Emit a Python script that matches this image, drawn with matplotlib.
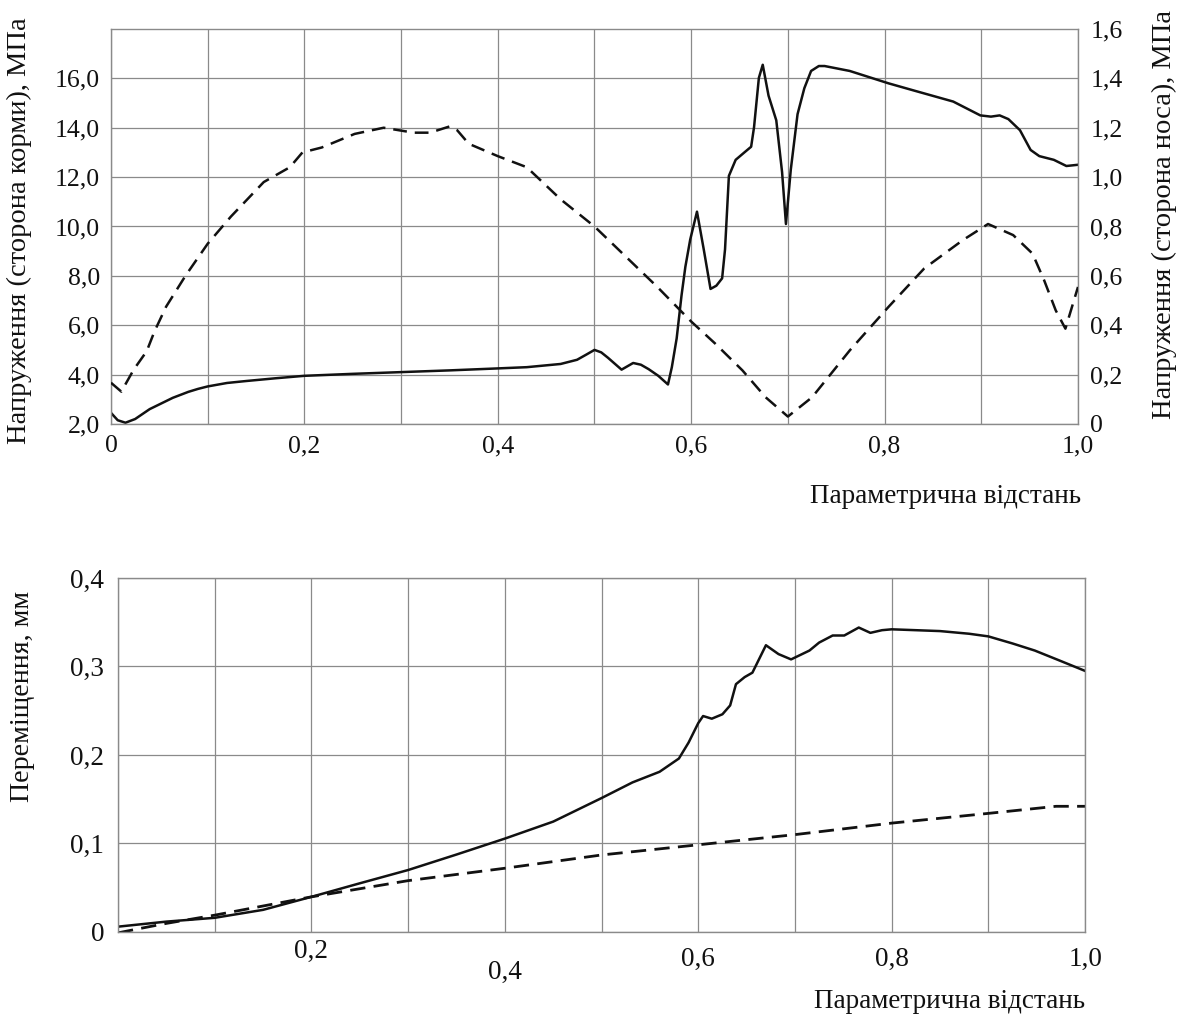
import numpy as np
import matplotlib.pyplot as plt
from matplotlib.ticker import FixedLocator, FixedFormatter

plt.rcParams['font.family'] = ['Liberation Serif', 'DejaVu Serif']

# stresses along the parametric distance (stern side, MPa)
stern_x = [0, 0.007, 0.015, 0.025, 0.04, 0.064, 0.08, 0.09, 0.1, 0.12, 0.14, 0.17, 0.2, 0.25,
           0.3, 0.35, 0.4, 0.43, 0.465, 0.482, 0.492, 0.5, 0.507, 0.514, 0.528, 0.54, 0.548,
           0.556, 0.566, 0.576, 0.58, 0.585, 0.59, 0.594, 0.599, 0.606, 0.613, 0.62, 0.626,
           0.632, 0.635, 0.639, 0.646, 0.655, 0.662, 0.665, 0.67, 0.674, 0.68, 0.688,
           0.694, 0.698, 0.703, 0.71, 0.717, 0.724, 0.732, 0.738, 0.764, 0.804, 0.831,
           0.871, 0.899, 0.91, 0.919, 0.928, 0.94, 0.951, 0.96, 0.975, 0.988, 1.0]
stern_y = [2.45, 2.15, 2.05, 2.2, 2.6, 3.06, 3.3, 3.42, 3.52, 3.66, 3.74, 3.85, 3.95, 4.03,
           4.1, 4.17, 4.25, 4.3, 4.43, 4.6, 4.82, 5.0, 4.9, 4.68, 4.2, 4.47, 4.4,
           4.22, 3.95, 3.6, 4.3, 5.47, 7.2, 8.37, 9.47, 10.6, 9.07, 7.47, 7.6,
           7.9, 9.07, 12.05, 12.7, 13.0, 13.23, 14.02, 16.02, 16.55, 15.3, 14.3,
           12.2, 10.1, 12.3, 14.55, 15.6, 16.3, 16.5, 16.5, 16.3, 15.8, 15.5,
           15.06, 14.5, 14.45, 14.5, 14.35, 13.9, 13.1, 12.85, 12.7, 12.45, 12.5]

# stresses, nose side (MPa)
nose_x = [0, 0.0107, 0.0235, 0.037, 0.045, 0.057, 0.077, 0.1, 0.124, 0.158, 0.185, 0.198,
          0.218, 0.252, 0.282, 0.313, 0.33, 0.35, 0.358, 0.37, 0.4, 0.43, 0.465, 0.5,
          0.565, 0.6, 0.625, 0.653, 0.677, 0.7, 0.725, 0.764, 0.804, 0.841, 0.881, 0.907,
          0.933, 0.953, 0.965, 0.977, 0.987, 1.0]
nose_y = [0.167, 0.131, 0.22, 0.295, 0.375, 0.475, 0.6, 0.73, 0.84, 0.98, 1.04, 1.1,
          1.12, 1.175, 1.2, 1.18, 1.18, 1.205, 1.19, 1.135, 1.085, 1.04, 0.91, 0.80,
          0.555, 0.415, 0.325, 0.217, 0.108, 0.03, 0.108, 0.298, 0.474, 0.63, 0.745, 0.81,
          0.765, 0.69, 0.582, 0.46, 0.386, 0.555]

# displacements (mm)
disp1_x = [0, 0.05, 0.1, 0.15, 0.2, 0.25, 0.3, 0.35, 0.4, 0.45, 0.5, 0.532, 0.56, 0.58,
           0.59, 0.6, 0.605, 0.614, 0.625, 0.633, 0.639, 0.648, 0.656, 0.67,
           0.683, 0.696, 0.715, 0.725, 0.739, 0.751, 0.766, 0.778, 0.79, 0.8, 0.85, 0.88,
           0.9, 0.925, 0.948, 0.973, 1.0]
disp1_y = [0.006, 0.0117, 0.016, 0.025, 0.0397, 0.055, 0.07, 0.0875, 0.1055, 0.1247, 0.1513,
           0.169, 0.181, 0.196, 0.214, 0.236, 0.244, 0.241, 0.246, 0.256, 0.28,
           0.288, 0.293, 0.324, 0.314, 0.308, 0.318, 0.327, 0.335, 0.335, 0.344, 0.338,
           0.341, 0.342, 0.34, 0.337, 0.334, 0.326, 0.318, 0.307, 0.295]
disp2_x = [0, 0.023, 0.05, 0.1, 0.2, 0.3, 0.4, 0.5, 0.6, 0.7, 0.8, 0.9, 0.97, 1.0]
disp2_y = [-0.001, 0.004, 0.0097, 0.019, 0.0397, 0.058, 0.072, 0.087, 0.0985, 0.11,
           0.123, 0.134, 0.142, 0.142]

x_grid = np.round(np.arange(0, 1.01, 0.1), 1)
top_xlabels = ['0', '', '0,2', '', '0,4', '', '0,6', '', '0,8', '', '1,0']
bot_xlabels = ['', '', '0,2', '', '0,4', '', '0,6', '', '0,8', '', '1,0']
stern_ticks = [2, 4, 6, 8, 10, 12, 14, 16]
stern_labels = ['2,0', '4,0', '6,0', '8,0', '10,0', '12,0', '14,0', '16,0']
nose_ticks = [0, 0.2, 0.4, 0.6, 0.8, 1.0, 1.2, 1.4, 1.6]
nose_labels = ['0', '0,2', '0,4', '0,6', '0,8', '1,0', '1,2', '1,4', '1,6']
disp_ticks = [0, 0.1, 0.2, 0.3, 0.4]
disp_labels = ['0', '0,1', '0,2', '0,3', '0,4']

GRID = '#8a8a8a'
INK = '#111111'
FS = 18.5


def frame(ax):
    for s in ax.spines.values():
        s.set_color(GRID)
        s.set_linewidth(1.0)
    ax.grid(True, color=GRID, linewidth=0.9)
    ax.tick_params(length=0, labelsize=FS, colors=INK)


fig = plt.figure(figsize=(11.78, 10.14), dpi=100)

# ---- stresses
ax = fig.add_axes([0.0942, 0.5819, 0.8209, 0.3895])
ax2 = ax.twinx()
frame(ax)
for s in ax2.spines.values():
    s.set_visible(False)
ax2.tick_params(length=0, labelsize=FS, colors=INK, pad=9)

ax.plot(stern_x, stern_y, color=INK, lw=1.8, solid_joinstyle='round')
ax2.plot(nose_x, nose_y, color=INK, lw=1.8, linestyle=(0, (5.5, 3.2)))

ax.set_xlim(0, 1)
ax.set_ylim(2, 18)
ax2.set_ylim(0, 1.6)
ax.xaxis.set_major_locator(FixedLocator(x_grid))
ax.xaxis.set_major_formatter(FixedFormatter(top_xlabels))
ax.yaxis.set_major_locator(FixedLocator(stern_ticks))
ax.yaxis.set_major_formatter(FixedFormatter(stern_labels))
ax2.yaxis.set_major_locator(FixedLocator(nose_ticks))
ax2.yaxis.set_major_formatter(FixedFormatter(nose_labels))
ax.tick_params(axis='x', pad=8)
ax.tick_params(axis='y', pad=8)

ax.set_ylabel('Напруження (сторона корми), МПа', fontsize=20.5, color=INK)
ax.yaxis.set_label_coords(-0.082, 0.49)
ax2.set_ylabel('Напруження (сторона носа), МПа', fontsize=20.5, color=INK)
ax2.yaxis.set_label_coords(1.0765, 0.53)
ax.set_xlabel('Параметрична відстань', fontsize=19.5, color=INK, loc='right')
ax.xaxis.set_label_coords(1.003, -0.153)

# ---- displacements
bx = fig.add_axes([0.1002, 0.0809, 0.8209, 0.3491])
frame(bx)
bx.plot(disp1_x, disp1_y, color=INK, lw=1.8, solid_joinstyle='round')
bx.plot(disp2_x, disp2_y, color=INK, lw=2.0, linestyle=(0, (5.5, 3)))
bx.set_xlim(0, 1)
bx.set_ylim(0, 0.4)
bx.xaxis.set_major_locator(FixedLocator(x_grid))
bx.xaxis.set_major_formatter(FixedFormatter(bot_xlabels))
bx.yaxis.set_major_locator(FixedLocator(disp_ticks))
bx.yaxis.set_major_formatter(FixedFormatter(disp_labels))
bx.tick_params(axis='y', pad=10, labelsize=19.5)
bx.tick_params(axis='x', pad=10, labelsize=19.5)
# staggered tick labels along the distance axis
for t, p in zip(bx.xaxis.get_major_ticks(), [10, 10, 5, 10, 20, 10, 11, 10, 11, 10, 11]):
    t.set_pad(p)

bx.set_ylabel('Переміщення, мм', fontsize=20.2, color=INK)
bx.yaxis.set_label_coords(-0.086, 0.664)
bx.set_xlabel('Параметрична відстань', fontsize=19.5, color=INK, loc='right')
bx.xaxis.set_label_coords(1.0, -0.16)

fig.savefig('out.png', dpi=100)
